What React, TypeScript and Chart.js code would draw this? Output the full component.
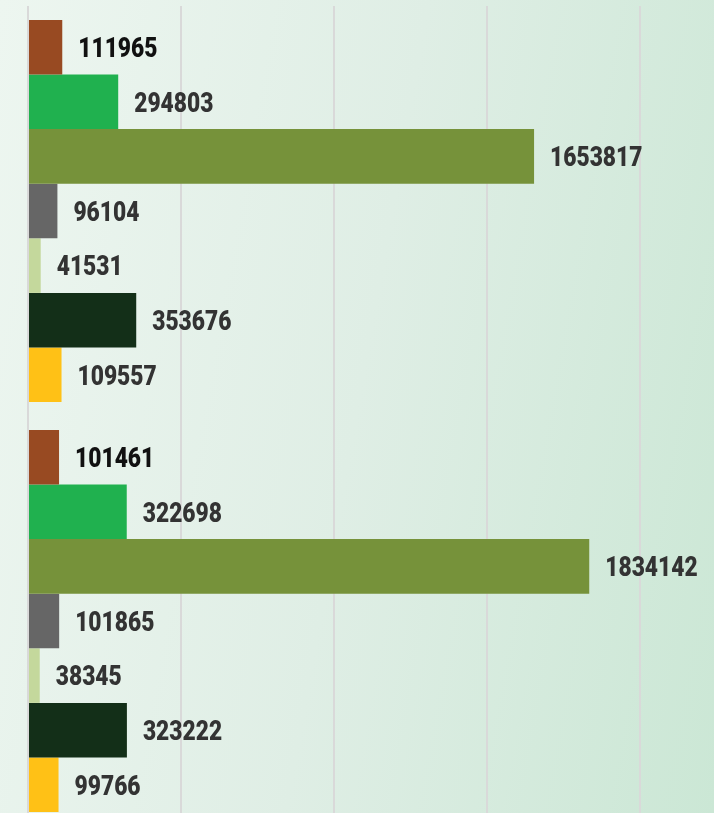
import React, { useEffect, useRef } from "react";
import { Chart, registerables } from "chart.js";

Chart.register(...registerables);

const categories = ["Group 1", "Group 2"];
const seriesNames = ["S1", "S2", "S3", "S4", "S5", "S6", "S7"];
const s1 = [111965, 101461];
const s2 = [294803, 322698];
const s3 = [1653817, 1834142];
const s4 = [96104, 101865];
const s5 = [41531, 38345];
const s6 = [353676, 323222];
const s7 = [109557, 99766];
const seriesValues = [s1, s2, s3, s4, s5, s6, s7];
const seriesColors = ["#984A22", "#20B14F", "#76923A", "#666666", "#C4D89C", "#132F18", "#FFC116"];
const labelColors = ["#111111", "#333333", "#333333", "#333333", "#333333", "#333333", "#333333"];
const axisMax = 2000000;
const axisStep = 500000;

const valueLabels = {
  id: "valueLabels",
  afterDatasetsDraw(chart: any) {
    const ctx = chart.ctx;
    ctx.save();
    ctx.font = "900 27px Roboto, 'Noto Sans', sans-serif";
    ctx.textBaseline = "middle";
    ctx.textAlign = "left";
    chart.data.datasets.forEach((ds: any, i: number) => {
      const meta = chart.getDatasetMeta(i);
      meta.data.forEach((el: any, j: number) => {
        const text = String(ds.data[j]);
        const w = ctx.measureText(text).width;
        const target = text.length * 13.2;
        ctx.save();
        ctx.translate(el.x + 16, el.y + 3);
        ctx.scale(target / w, 1);
        ctx.fillStyle = labelColors[i];
        ctx.fillText(text, 0, 0);
        ctx.restore();
      });
    });
    ctx.restore();
  },
};

export default function App() {
  const ref = useRef<HTMLCanvasElement>(null);
  useEffect(() => {
    if (!ref.current) return;
    const chart = new Chart(ref.current, {
      type: "bar",
      data: {
        labels: categories,
        datasets: seriesNames.map((n, i) => ({
          label: n,
          data: seriesValues[i],
          backgroundColor: seriesColors[i],
          borderWidth: 0,
          barPercentage: 1,
          categoryPercentage: 0.932,
        })),
      },
      options: {
        indexAxis: "y",
        animation: false,
        responsive: false,
        maintainAspectRatio: false,
        layout: { padding: { left: 28, right: 74, top: 6, bottom: 0 } },
        plugins: { legend: { display: false }, tooltip: { enabled: false } },
        scales: {
          x: {
            min: 0,
            max: axisMax,
            ticks: { display: false, stepSize: axisStep },
            grid: { color: "#d9d9d9", lineWidth: 2, drawTicks: false },
            border: { display: false },
          },
          y: { display: false },
        },
      },
      plugins: [valueLabels],
    });
    return () => chart.destroy();
  }, []);
  return (
    <div
      style={{
        position: "fixed",
        left: 0,
        top: 0,
        width: 714,
        height: 813,
        overflow: "hidden",
        background: "linear-gradient(100deg, #edf6f0 0%, #dfeee5 50%, #cbe7d5 100%)",
      }}
    >
      <canvas ref={ref} width={714} height={826} style={{ display: "block", width: 714, height: 826 }} />
    </div>
  );
}
